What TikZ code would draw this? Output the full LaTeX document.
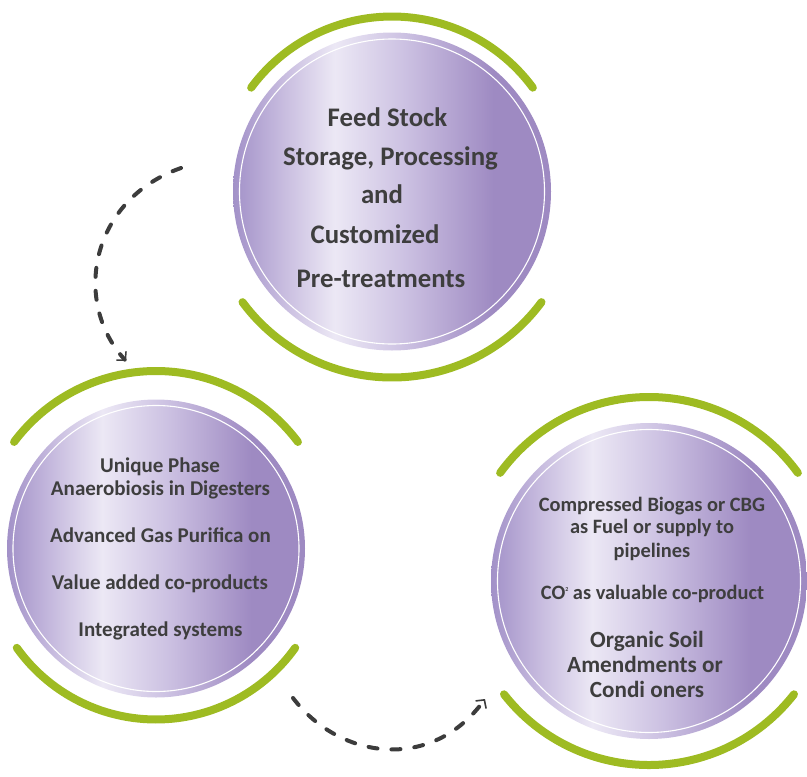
\documentclass[tikz,border=0pt]{standalone}
\usepackage{fontspec}
\setmainfont{Carlito}
\usetikzlibrary{arrows.meta}
\definecolor{pA}{RGB}{162,145,200}
\definecolor{pB}{RGB}{198,186,222}
\definecolor{pC}{RGB}{236,232,245}
\definecolor{pD}{RGB}{204,193,226}
\definecolor{pE}{RGB}{158,138,194}
\definecolor{leaf}{RGB}{158,187,34}
\definecolor{ink}{RGB}{62,62,62}
\definecolor{dash}{RGB}{60,60,60}
\pgfdeclarehorizontalshading{bubbleshade}{100bp}{color(0bp)=(pA); color(25bp)=(pA); color(32.5bp)=(pB); color(41bp)=(pC); color(52bp)=(pD); color(66bp)=(pE); color(75bp)=(pE); color(100bp)=(pE)}
\tikzset{
  bubble/.style={circle, inner sep=0pt, shading=bubbleshade, draw=none},
  ring/.style={draw=white, line width=1.1pt},
  leafarc/.style={draw=leaf, line width=8pt, line cap=round},
  flow/.style={draw=dash, line width=4pt, line cap=round, dash pattern=on 9pt off 14pt,
    -{Straight Barb[length=6pt,width=13pt,line width=1.6pt]}},
  bigtxt/.style={anchor=base, text=ink, font=\fontsize{26.8}{30}\selectfont\bfseries, inner sep=0pt},
  lefttxt/.style={anchor=base, text=ink, font=\fontsize{21}{25}\selectfont\bfseries, inner sep=0pt},
  righttxt/.style={anchor=base, text=ink, font=\fontsize{20.4}{24}\selectfont\bfseries, inner sep=0pt},
  orgtxt/.style={anchor=base, text=ink, font=\fontsize{23.2}{27}\selectfont\bfseries, inner sep=0pt},
}
\begin{document}
\begin{tikzpicture}[x=1pt,y=-1pt]
\useasboundingbox (0,0) rectangle (807,777);
% top circle
\node[bubble, minimum size=318pt] (c1) at (392,191.5) {};
\draw[ring] (c1.center) circle[radius=152.5pt];
\draw[leafarc] ([shift={(36.4:175pt)}]c1.center) arc[start angle=36.4, end angle=143.6, radius=175pt];
\draw[leafarc] ([shift={(216.5:186pt)}]c1.center) arc[start angle=216.5, end angle=323.5, radius=186pt];
% left circle
\node[bubble, minimum size=298pt] (c2) at (156,548.5) {};
\draw[ring] (c2.center) circle[radius=143pt];
\draw[leafarc] ([shift={(36.9:177.5pt)}]c2.center) arc[start angle=36.9, end angle=143.1, radius=177.5pt];
\draw[leafarc] ([shift={(215.5:171pt)}]c2.center) arc[start angle=215.5, end angle=324.5, radius=171pt];
% right circle
\node[bubble, minimum size=316pt] (c3) at (649,581) {};
\draw[ring] (c3.center) circle[radius=151.5pt];
\draw[leafarc] ([shift={(36:184pt)}]c3.center) arc[start angle=36, end angle=144, radius=184pt];
\draw[leafarc] ([shift={(218:184pt)}]c3.center) arc[start angle=218, end angle=322, radius=184pt];
% top texts
\node[bigtxt] (t1) at (387.5,126) {Feed Stock};
\node[bigtxt] (t2) at (390.5,165) {Storage, Processing};
\node[bigtxt] (t3) at (382,203) {and};
\node[bigtxt] (t4) at (375,243) {Customized};
\node[bigtxt] (t5) at (381,287) {Pre-treatments};
% left texts
\node[lefttxt] (l1) at (160,472) {Unique Phase};
\node[lefttxt] (l2) at (160.5,495) {Anaerobiosis in Digesters};
\node[lefttxt] (l3) at (160.5,542) {Advanced Gas Purifica on};
\node[lefttxt] (l4) at (160,589) {Value added co-products};
\node[lefttxt] (l5) at (160.5,636) {Integrated systems};
% right texts
\node[righttxt] (r1) at (652,511) {Compressed Biogas or CBG};
\node[righttxt] (r2) at (652,533) {as Fuel or supply to};
\node[righttxt] (r3) at (652,557) {pipelines};
\node[righttxt] (r4) at (652.5,599) {CO\raisebox{8pt}{\fontsize{6}{6}\selectfont 2} as valuable co-product};
\node[orgtxt] (r5) at (647,647) {Organic Soil};
\node[orgtxt] (r6) at (645,672) {Amendments or};
\node[orgtxt] (r7) at (647,697) {Condi oners};
% dashed arrows
\coordinate (a1s) at (181,168);
\coordinate (a1e) at (126,361);
\coordinate (a2s) at (293,698);
\coordinate (a2e) at (485,699);
\draw[flow] (a1s) .. controls (90,200) and (72,302) .. (a1e);
\draw[flow] (a2s) .. controls (340,760) and (432,772) .. (a2e);
\end{tikzpicture}
\end{document}
